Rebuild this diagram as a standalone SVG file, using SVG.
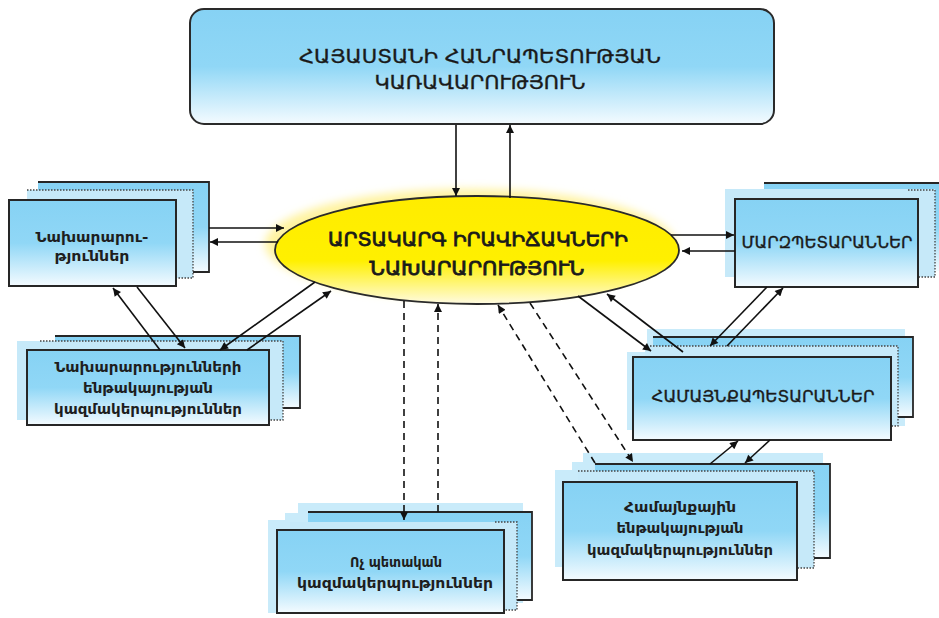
<svg xmlns="http://www.w3.org/2000/svg" width="939" height="618" viewBox="0 0 939 618">
<defs>
<linearGradient id="gBlue" x1="0" y1="0" x2="0" y2="1">
<stop offset="0" stop-color="#86d2f4"/>
<stop offset="0.5" stop-color="#90d7f6"/>
<stop offset="1" stop-color="#f4fbff"/>
</linearGradient>
<linearGradient id="gYellow" x1="0" y1="0" x2="0" y2="1">
<stop offset="0" stop-color="#ffec00"/>
<stop offset="0.6" stop-color="#fff000"/>
<stop offset="1" stop-color="#fffbe2"/>
</linearGradient>
<filter id="blur" x="-10%" y="-20%" width="120%" height="140%">
<feGaussianBlur stdDeviation="4"/>
</filter>
<marker id="ah" viewBox="0 0 10 10" refX="10" refY="5" markerUnits="userSpaceOnUse" markerWidth="10" markerHeight="8" orient="auto">
<path d="M0,0 L10,5 L0,10 z" fill="#111"/>
</marker>
<style>
.front{fill:url(#gBlue);stroke:#262626;stroke-width:2}
.back{fill:url(#gBlue)}
.bline{fill:none;stroke:#262626;stroke-width:1.8}
.mid{fill:#c6e9f9}
.dot{fill:none;stroke:#444;stroke-width:1.3;stroke-dasharray:1.5 1.5}
.glow{fill:#c9ebfa}
.cap{font-family:"DejaVu Sans",sans-serif;fill:#1a1a1a;text-anchor:middle;stroke:#1a1a1a;stroke-width:0.35}
.low{font-family:"DejaVu Sans",sans-serif;font-weight:bold;fill:#1e1e1e;text-anchor:middle;font-size:14px}
.con{fill:none;stroke:#111;stroke-width:1.6}
.dash{stroke-dasharray:7 5}
</style>
</defs>
<rect width="939" height="618" fill="#ffffff"/>

<g id="government">
<rect x="190" y="9" width="584" height="115" rx="14" fill="url(#gBlue)" stroke="#2a2a2a" stroke-width="2"/>
<text class="cap" x="480" y="63" font-size="19" textLength="362" lengthAdjust="spacingAndGlyphs">ՀԱՅԱՍՏԱՆԻ ՀԱՆՐԱՊԵՏՈՒԹՅԱՆ</text>
<text class="cap" x="480" y="89" font-size="19" textLength="211" lengthAdjust="spacingAndGlyphs">ԿԱՌԱՎԱՐՈՒԹՅՈՒՆ</text>
</g>

<g id="ministry-emergency">
<ellipse cx="470" cy="244" rx="205" ry="55" fill="#fff3a0" filter="url(#blur)"/>
<ellipse cx="477" cy="250" rx="202" ry="54" fill="url(#gYellow)" stroke="#2a2a2a" stroke-width="1.8"/>
<text class="cap" x="478" y="246" font-size="20" textLength="300" lengthAdjust="spacingAndGlyphs" style="stroke-width:0.8">ԱՐՏԱԿԱՐԳ ԻՐԱՎԻՃԱԿՆԵՐԻ</text>
<text class="cap" x="477" y="275" font-size="20" textLength="215" lengthAdjust="spacingAndGlyphs" style="stroke-width:0.8">ՆԱԽԱՐԱՐՈՒԹՅՈՒՆ</text>
</g>

<g id="ministries">
<rect class="back" x="38" y="182" width="171" height="90"/>
<path class="bline" d="M38,182 H209 V272 H193"/>
<rect class="mid" x="27" y="190" width="166" height="88"/>
<path class="dot" d="M27,190 H193 V278 H176"/>
<rect class="front" x="9" y="200" width="167" height="86"/>
<text class="low" x="92" y="242" textLength="113" lengthAdjust="spacingAndGlyphs">Նախարարու-</text>
<text class="low" x="92" y="261" textLength="75" lengthAdjust="spacingAndGlyphs">թյուններ</text>
</g>

<g id="marzpetaranner">
<rect class="back" x="764" y="183" width="180" height="88"/>
<path class="bline" d="M764,183 H944 V271"/>
<rect class="mid" x="725" y="189" width="210" height="88"/>
<path class="dot" d="M908,190 H935 V277 H918"/>
<rect class="front" x="735" y="199" width="183" height="88"/>
<text class="cap" x="827" y="248" font-size="15.5" textLength="171" lengthAdjust="spacingAndGlyphs">ՄԱՐԶՊԵՏԱՐԱՆՆԵՐ</text>
</g>

<g id="ministry-subordinate-orgs">
<rect class="back" x="55" y="336" width="245" height="72"/>
<path class="bline" d="M55,336 H300 V408 H283"/>
<rect class="mid" x="17" y="341" width="266" height="79"/>
<path class="dot" d="M40,341 H283 V420 H269"/>
<rect class="front" x="27" y="350" width="242" height="75"/>
<text class="low" x="148" y="372" textLength="187" lengthAdjust="spacingAndGlyphs">Նախարարությունների</text>
<text class="low" x="148" y="393" textLength="130" lengthAdjust="spacingAndGlyphs">ենթակայության</text>
<text class="low" x="148" y="414" textLength="188" lengthAdjust="spacingAndGlyphs">կազմակերպություններ</text>
</g>

<g id="hamaynqapetaranner">
<rect class="glow" x="647" y="329" width="258" height="97"/>
<rect class="glow" x="627" y="352" width="30" height="78"/>
<rect class="back" x="653" y="337" width="260" height="80"/>
<path class="bline" d="M653,337 H913 V417 H898"/>
<rect class="mid" x="645" y="346" width="253" height="80"/>
<path class="dot" d="M650,346 H898 V426 H891"/>
<rect class="front" x="633" y="357" width="258" height="83"/>
<text class="cap" x="763" y="402" font-size="15" textLength="223" lengthAdjust="spacingAndGlyphs">ՀԱՄԱՅՆՔԱՊԵՏԱՐԱՆՆԵՐ</text>
</g>

<g id="community-subordinate-orgs">
<rect class="glow" x="583" y="453" width="240" height="100"/>
<rect class="glow" x="572" y="462" width="20" height="100"/>
<rect class="glow" x="555" y="470" width="20" height="97"/>
<rect class="back" x="595" y="464" width="235" height="94"/>
<path class="bline" d="M595,464 H830 V558 H814"/>
<rect class="mid" x="578" y="471" width="236" height="97"/>
<path class="dot" d="M578,471 H814 V568 H797"/>
<rect class="front" x="563" y="482" width="234" height="98"/>
<text class="low" x="680" y="512" textLength="112" lengthAdjust="spacingAndGlyphs">Համայնքային</text>
<text class="low" x="680" y="533" textLength="127" lengthAdjust="spacingAndGlyphs">ենթակայության</text>
<text class="low" x="680" y="555" textLength="186" lengthAdjust="spacingAndGlyphs">կազմակերպություններ</text>
</g>

<g id="non-state-orgs">
<rect class="glow" x="298" y="503" width="225" height="100"/>
<rect class="glow" x="285" y="513" width="20" height="95"/>
<rect class="glow" x="268" y="520" width="20" height="93"/>
<rect class="back" x="308" y="512" width="224" height="88"/>
<path class="bline" d="M308,512 H532 V600 H517"/>
<rect class="mid" x="290" y="522" width="227" height="88"/>
<path class="dot" d="M495,522 H517 V610 H504"/>
<rect class="front" x="277" y="530" width="227" height="83"/>
<text class="low" x="396" y="567" textLength="92" lengthAdjust="spacingAndGlyphs">Ոչ պետական</text>
<text class="low" x="395" y="588" textLength="196" lengthAdjust="spacingAndGlyphs">կազմակերպություններ</text>
</g>

<g id="connectors">
<path class="con" d="M456,125 V196" marker-end="url(#ah)"/>
<path class="con" d="M510,198 V125" marker-end="url(#ah)"/>
<path class="con" d="M209,228 H284" marker-end="url(#ah)"/>
<path class="con" d="M278,242 H210" marker-end="url(#ah)"/>
<path class="con" d="M671,235 H734" marker-end="url(#ah)"/>
<path class="con" d="M735,251 H682" marker-end="url(#ah)"/>
<path class="con" d="M160,350 L113,288" marker-end="url(#ah)"/>
<path class="con" d="M137,287 L185,348" marker-end="url(#ah)"/>
<path class="con" d="M315,282 L220,350" marker-end="url(#ah)"/>
<path class="con" d="M247,350 L331,291" marker-end="url(#ah)"/>
<path class="con" d="M578,296 L651,351" marker-end="url(#ah)"/>
<path class="con" d="M683,352 L607,294" marker-end="url(#ah)"/>
<path class="con" d="M767,287 L710,346" marker-end="url(#ah)"/>
<path class="con" d="M727,346 L783,288" marker-end="url(#ah)"/>
<path class="con" d="M710,464 L738,441" marker-end="url(#ah)"/>
<path class="con" d="M770,440 L745,463" marker-end="url(#ah)"/>
<path class="con dash" d="M530,303 L633,462" marker-end="url(#ah)"/>
<path class="con dash" d="M595,463 L498,305" marker-end="url(#ah)"/>
<path class="con dash" d="M404,301 V520" marker-end="url(#ah)"/>
<path class="con dash" d="M438,512 V304" marker-end="url(#ah)"/>
</g>
</svg>
